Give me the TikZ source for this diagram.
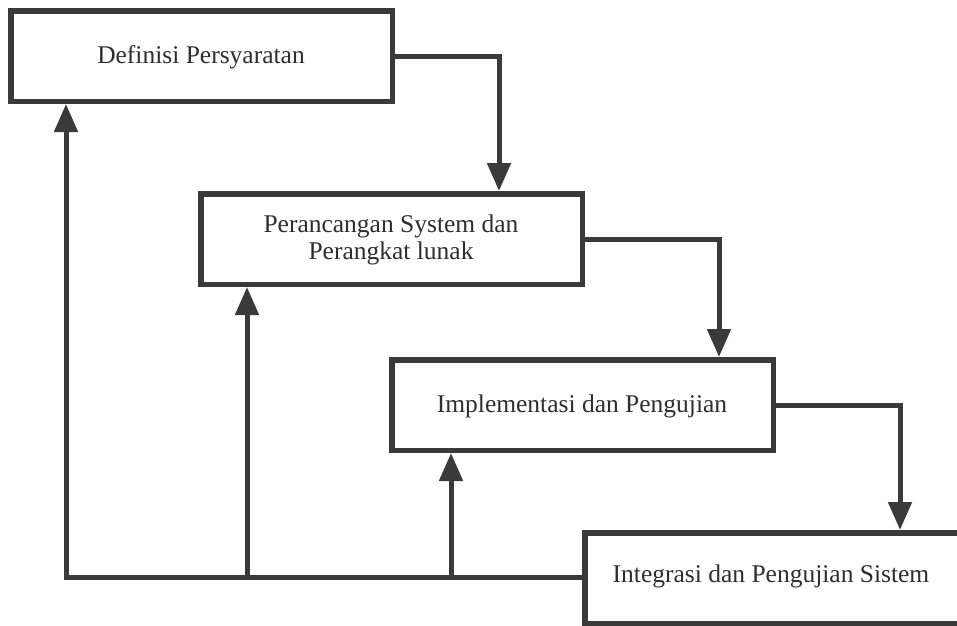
\documentclass[tikz,border=0pt]{standalone}
\usepackage{fontspec}
\setmainfont{Liberation Serif}
\usetikzlibrary{arrows.meta}
\definecolor{ink}{HTML}{3A3A3A}
\definecolor{txt}{HTML}{2E2E2E}
\begin{document}
\begin{tikzpicture}[x=1pt,y=-1pt,
  phase/.style={draw=ink, line width=5.5pt, fill=white, inner sep=0pt,
    anchor=north west, minimum width=381.5pt, minimum height=90.5pt},
  lbl/.style={text=txt, font=\fontsize{25.5}{26.5}\selectfont, align=center, inner sep=0pt},
  flow/.style={draw=ink, line width=5pt, line join=miter,
    -{Triangle[width=23pt,length=28pt]}}]
\clip (0,0) rectangle (957,625);
\fill[white] (0,0) rectangle (957,625);

% phase boxes (the last one runs past the right edge)
\node[phase] (b1) at (8,8) {};
\node[phase] (b2) at (198,191) {};
\node[phase] (b3) at (389,357) {};
\node[phase, minimum width=400pt] (b4) at (582,530) {};

% box texts
\node[lbl] (t1) at (201,57) {Definisi Persyaratan};
\node[lbl] (t2) at (391,240) {Perancangan System dan\\Perangkat lunak};
\node[lbl] (t3) at (582,406) {Implementasi dan Pengujian};
\node[lbl] (t4) at (771,576) {Integrasi dan Pengujian Sistem};

% columns of the downward connectors
\coordinate (d1) at (499,0);
\coordinate (d2) at (719,0);
\coordinate (d3) at (900,0);

% downward flow
\draw[flow] (b1.east) -| (b2.north -| d1);
\draw[flow] (b2.east) -| (b3.north -| d2);
\draw[flow] (b3.east) -| (b4.north -| d3);

% feedback line along the bottom
\coordinate (f1) at (66,577);
\coordinate (f2) at (247,577);
\coordinate (f3) at (451,577);
\draw[flow] (b4.west |- f1) -- (f1) -- (b1.south -| f1);
\draw[flow] (f2) -- (b2.south -| f2);
\draw[flow] (f3) -- (b3.south -| f3);
\end{tikzpicture}
\end{document}
